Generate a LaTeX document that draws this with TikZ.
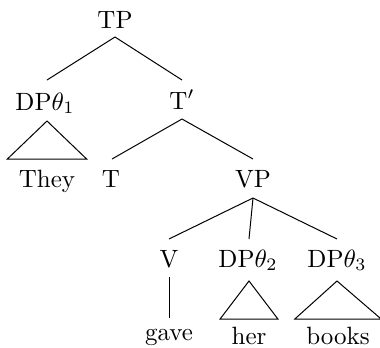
\documentclass[tikz,border=0pt]{standalone}
\usetikzlibrary{calc}
\begin{document}
\begin{tikzpicture}[x=0.4pt,y=-0.4pt,
  lab/.style={anchor=base,inner xsep=4.4pt,inner ysep=0pt},
  br/.style={line width=0.4pt}]
\useasboundingbox (0,0) rectangle (380,347);
% nodes
\node[lab] (TP)   at (115,28)  {TP};
\node[lab] (DPa)  at (45,110)  {DP$\theta_1$};
\node[lab] (Tbar) at (182,109) {T$'$};
\node[lab] (They) at (47,187)  {They};
\node[lab] (T)    at (111,187) {T};
\node[lab] (VP)   at (253,187) {VP};
\node[lab] (V)    at (169,267) {V};
\node[lab] (DPb)  at (248,267) {DP$\theta_2$};
\node[lab] (DPc)  at (337,267) {DP$\theta_3$};
\node[lab] (gave) at (169,340) {gave};
\node[lab] (her)  at (249,344) {her};
\node[lab] (books) at (338,344) {books};
% branches
\draw[br] ($(TP.base)+(0,9)$) -- ($(DPa.base)+(2,-30)$);
\draw[br] ($(TP.base)+(0,9)$) -- ($(Tbar.base)+(0,-29)$);
\draw[br] ($(DPa.base)+(2,11)$) -- ($(They.base west)+(0,-28)$) -- ($(They.base east)+(0,-28)$) -- cycle;
\draw[br] ($(Tbar.base)+(0,10)$) -- ($(T.base)+(1,-28)$);
\draw[br] ($(Tbar.base)+(0,10)$) -- ($(VP.base)+(0,-28)$);
\draw[br] ($(VP.base)+(0,11)$) -- ($(V.base)+(0,-28)$);
\draw[br] ($(VP.base)+(0,11)$) -- ($(DPb.base)+(1,-28)$);
\draw[br] ($(VP.base)+(0,11)$) -- ($(DPc.base)+(0,-28)$);
\draw[br] ($(V.base)+(0,10)$) -- ($(gave.base)+(0,-22)$);
\draw[br] ($(DPb.base)+(1,14)$) -- ($(her.base west)+(0,-25)$) -- ($(her.base east)+(0,-25)$) -- cycle;
\draw[br] ($(DPc.base)+(0,14)$) -- ($(books.base west)+(0,-25)$) -- ($(books.base east)+(0,-25)$) -- cycle;
\end{tikzpicture}
\end{document}
